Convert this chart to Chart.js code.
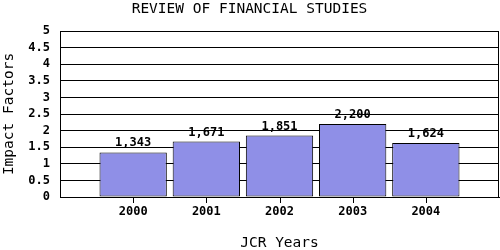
<!DOCTYPE html>
<html>
<head>
<meta charset="utf-8">
<script src="https://cdn.jsdelivr.net/npm/chart.js@4/dist/chart.umd.min.js"></script>
<style>
  html, body { margin: 0; padding: 0; background: #fff; }
  #wrap { width: 500px; height: 250px; }
</style>
</head>
<body>
<div id="wrap"><canvas id="chart" width="500" height="250"></canvas></div>
<script>
// Chart data
const years = ['2000', '2001', '2002', '2003', '2004'];
const impactFactors = [1.343, 1.671, 1.851, 2.200, 1.624];
const yMin = 0;
const yMax = 5;
const yStep = 0.5;

const MONO = '"DejaVu Sans Mono", "Liberation Mono", monospace';

// empty slots on both ends so the bars sit on whole-number positions
const labels = [''].concat(years, ['']);
const values = [null].concat(impactFactors, [null]);

// Frame round the plot area
const frame = {
  id: 'frame',
  beforeDatasetsDraw(chart) {
    const { ctx, chartArea: a } = chart;
    ctx.save();
    ctx.strokeStyle = '#000';
    ctx.lineWidth = 1;
    ctx.strokeRect(Math.round(a.left) + 0.5, Math.round(a.top) + 0.5,
      Math.round(a.right - a.left) - 1, Math.round(a.bottom - a.top));
    ctx.restore();
  },
  // small tick marks under the years
  afterDraw(chart) {
    const { ctx, chartArea: a } = chart;
    const xs = chart.scales.x;
    ctx.save();
    ctx.fillStyle = '#000';
    labels.forEach((lab, i) => {
      if (!lab) return;
      ctx.fillRect(Math.round(xs.getPixelForValue(i)), Math.round(a.bottom), 1, 6);
    });
    ctx.restore();
  }
};

// Value labels over the bars, comma as decimal mark
const valueLabels = {
  id: 'valueLabels',
  afterDatasetsDraw(chart) {
    const { ctx } = chart;
    const meta = chart.getDatasetMeta(0);
    ctx.save();
    ctx.font = 'bold 12px ' + MONO;
    ctx.fillStyle = '#000';
    ctx.textAlign = 'center';
    ctx.textBaseline = 'alphabetic';
    meta.data.forEach((bar, i) => {
      const v = values[i];
      if (v === null) return;
      ctx.fillText(v.toFixed(3).replace('.', ','), bar.x, bar.y - 6);
    });
    ctx.restore();
  }
};

new Chart(document.getElementById('chart'), {
  type: 'bar',
  data: {
    labels: labels,
    datasets: [{
      data: values,
      backgroundColor: '#8f8fe7',
      borderColor: '#000',
      borderWidth: 1,
      borderSkipped: false,
      categoryPercentage: 1,
      barPercentage: 0.92
    }]
  },
  options: {
    responsive: false,
    animation: false,
    layout: { padding: { left: 0, right: 1, top: 0, bottom: 0 } },
    plugins: {
      legend: { display: false },
      tooltip: { enabled: false },
      title: {
        display: true,
        text: 'REVIEW OF FINANCIAL STUDIES',
        color: '#000',
        font: { family: MONO, size: 14.5, weight: 'normal', lineHeight: 1 },
        padding: { top: 2, bottom: 14.5 }
      }
    },
    scales: {
      x: {
        offset: false,
        grid: { offset: false, drawOnChartArea: false, drawTicks: false },
        border: { display: true, color: '#000' },
        ticks: {
          autoSkip: false,
          maxRotation: 0,
          color: '#000',
          padding: 8,
          font: { family: MONO, size: 12, weight: 'bold' }
        },
        title: {
          display: true,
          text: 'JCR Years',
          color: '#000',
          font: { family: MONO, size: 14.5, weight: 'normal', lineHeight: 1 },
          padding: { top: 0, bottom: 0 }
        },
        afterFit(scale) {
          scale.height = 53;
          scale.paddingLeft = 0;
          scale.paddingRight = 0;
        }
      },
      y: {
        min: yMin,
        max: yMax,
        grid: { color: '#000', drawTicks: false },
        border: { display: true, color: '#000' },
        ticks: {
          stepSize: yStep,
          autoSkip: false,
          color: '#000',
          padding: 10,
          font: { family: MONO, size: 12, weight: 'bold' },
          callback: v => String(v)
        },
        title: {
          display: true,
          text: 'Impact Factors',
          color: '#000',
          font: { family: MONO, size: 14.5, weight: 'normal', lineHeight: 1 },
          padding: { top: 1.5, bottom: 0 }
        },
        afterFit(scale) { scale.width = 60; }
      }
    }
  },
  plugins: [frame, valueLabels]
});
</script>
</body>
</html>
